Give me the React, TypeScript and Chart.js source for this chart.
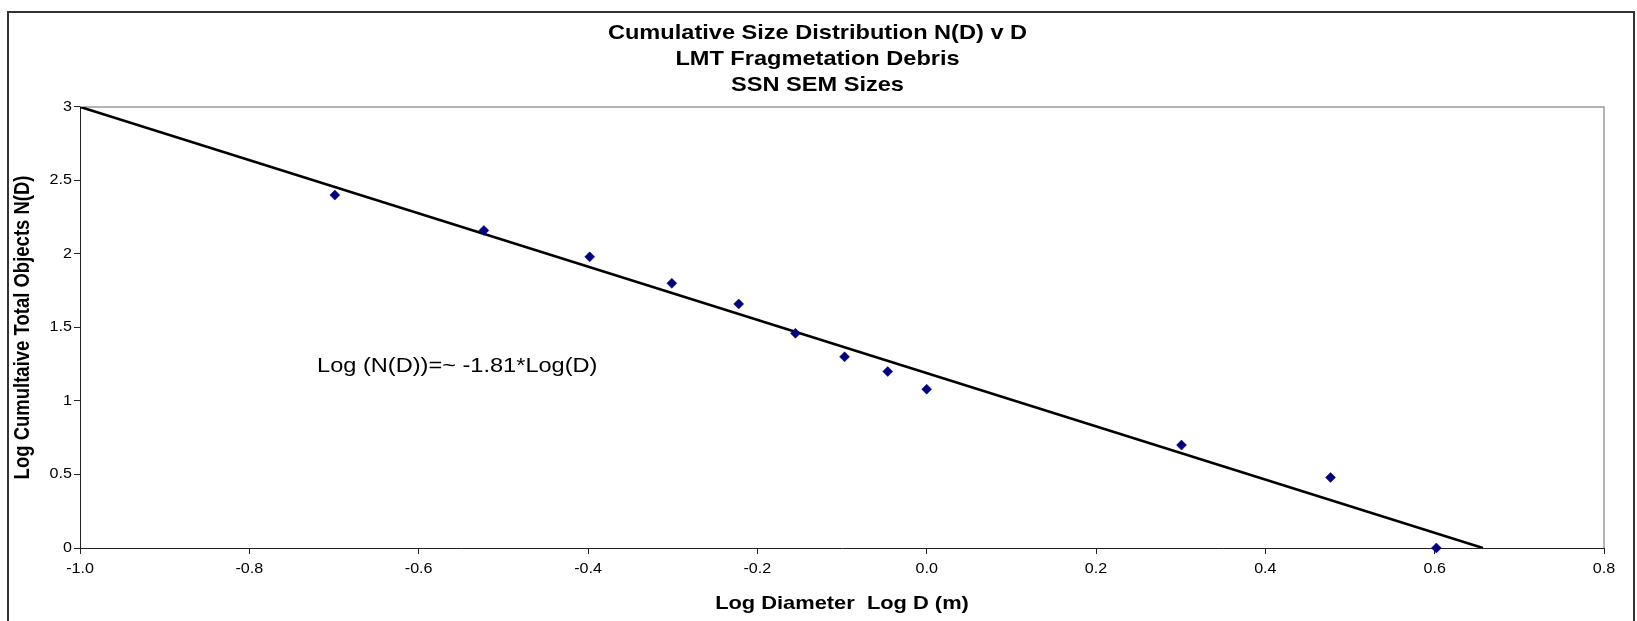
import React, { useEffect, useRef } from 'react';
import { Chart, registerables } from 'chart.js';

Chart.register(...registerables);

// ---------- data ----------
const titleLines = ['Cumulative Size Distribution N(D) v D', 'LMT Fragmetation Debris', 'SSN SEM Sizes'];
const xAxisTitle = 'Log Diameter  Log D (m)';
const yAxisTitle = 'Log Cumultaive Total Objects N(D)';

const logDiameter = [-0.699, -0.523, -0.398, -0.301, -0.222, -0.155, -0.097, -0.046, 0.0, 0.301, 0.477, 0.602];
const logCumulative = [2.40, 2.16, 1.98, 1.80, 1.66, 1.46, 1.30, 1.20, 1.08, 0.70, 0.48, 0.0];

const trendX = [-1.0, 0.657];
const trendY = [3.0, 0.0];

const xTickValues = [-1.0, -0.8, -0.6, -0.4, -0.2, 0.0, 0.2, 0.4, 0.6, 0.8];
const yTickValues = [0, 0.5, 1, 1.5, 2, 2.5, 3];

const equationText = 'Log (N(D))=~ -1.81*Log(D)';
const equationX = -0.72;
const equationY = 1.2;

// ---------- look ----------
const W = 1637;
const H = 621;
const TEXT_STRETCH = 1.15;
const FONT = '"Liberation Sans", Arial, Helvetica, sans-serif';

Chart.defaults.font.family = FONT;

const stretchTextPlugin = {
  id: 'stretchText',
  beforeDraw(chart: any) {
    const ctx = chart.ctx;
    if (ctx.__stretched) return;
    const orig = ctx.fillText;
    ctx.fillText = function (text: string, x: number, y: number, maxWidth?: number) {
      const m = ctx.getTransform();
      const px = m.a * x + m.c * y + m.e;
      const py = m.b * x + m.d * y + m.f;
      ctx.save();
      const t = new DOMMatrix().translate(px, py).scale(TEXT_STRETCH, 1).translate(-px, -py).multiply(m);
      ctx.setTransform(t);
      if (maxWidth === undefined || maxWidth === null) orig.call(ctx, text, x, y);
      else orig.call(ctx, text, x, y, maxWidth);
      ctx.restore();
    };
    ctx.__stretched = true;
  },
};

const framePlugin = {
  id: 'frame',
  beforeDraw(chart: any) {
    const { ctx } = chart;
    ctx.save();
    ctx.fillStyle = '#ffffff';
    ctx.fillRect(0, 0, W, H);
    ctx.strokeStyle = '#333333';
    ctx.lineWidth = 2;
    ctx.strokeRect(8, 12, 1626, H + 20);
    ctx.restore();
  },
  beforeDatasetsDraw(chart: any) {
    const { ctx, chartArea: a } = chart;
    ctx.save();
    ctx.strokeStyle = '#9a9a9a';
    ctx.lineWidth = 1.5;
    ctx.beginPath();
    ctx.moveTo(a.left, a.top);
    ctx.lineTo(a.right, a.top);
    ctx.lineTo(a.right, a.bottom);
    ctx.stroke();
    ctx.restore();
  },
  afterDatasetsDraw(chart: any) {
    const { ctx } = chart;
    const xs = chart.scales.x;
    const ys = chart.scales.y;
    ctx.save();
    ctx.font = `20.5px ${FONT}`;
    ctx.fillStyle = '#000000';
    ctx.textAlign = 'left';
    ctx.textBaseline = 'alphabetic';
    ctx.fillText(equationText, xs.getPixelForValue(equationX), ys.getPixelForValue(equationY));
    ctx.restore();
  },
};

export default function App() {
  const ref = useRef<HTMLCanvasElement>(null);

  useEffect(() => {
    if (!ref.current) return;
    const points = logDiameter.map((x, i) => ({ x, y: logCumulative[i] }));
    const trend = trendX.map((x, i) => ({ x, y: trendY[i] }));

    const chart = new Chart(ref.current, {
      type: 'scatter',
      data: {
        datasets: [
          {
            label: 'Observed',
            data: points,
            pointStyle: 'rectRot',
            pointRadius: 5,
            backgroundColor: '#000080',
            borderColor: '#000080',
            borderWidth: 0.5,
            clip: false,
          } as any,
          {
            label: 'Fit',
            data: trend,
            showLine: true,
            pointRadius: 0,
            borderColor: '#000000',
            borderWidth: 2.6,
            backgroundColor: '#000000',
          } as any,
        ],
      },
      options: {
        responsive: false,
        animation: false,
        devicePixelRatio: 1,
        events: [],
        layout: { padding: { left: 0, right: 2, top: 0, bottom: 0 } },
        plugins: {
          legend: { display: false },
          tooltip: { enabled: false },
          title: {
            display: true,
            text: titleLines,
            color: '#000000',
            font: { family: FONT, size: 20.5, weight: 'bold', lineHeight: 1.25 },
            padding: { top: 21, bottom: 9 },
          },
        },
        scales: {
          x: {
            type: 'linear',
            position: 'bottom',
            min: -1,
            max: 0.8,
            afterBuildTicks: (s: any) => {
              s.ticks = xTickValues.map((v) => ({ value: v }));
            },
            afterFit: (s: any) => {
              s.height = 73;
            },
            ticks: {
              callback: (v: any) => Number(v).toFixed(1),
              font: { size: 14 },
              color: '#000000',
              padding: 7,
              maxRotation: 0,
              autoSkip: false,
            },
            grid: { display: true, drawOnChartArea: false, drawTicks: true, tickLength: 6, color: '#222222' },
            border: { display: true, color: '#222222', width: 1 },
            title: {
              display: true,
              text: xAxisTitle,
              color: '#000000',
              font: { size: 19, weight: 'bold' },
              padding: { top: 0, bottom: 6 },
            },
          },
          y: {
            type: 'linear',
            position: 'left',
            min: 0,
            max: 3,
            afterBuildTicks: (s: any) => {
              s.ticks = yTickValues.map((v) => ({ value: v }));
            },
            afterFit: (s: any) => {
              s.width = 80;
            },
            ticks: {
              callback: (v: any) => String(Number(v)),
              font: { size: 14 },
              color: '#000000',
              padding: 2,
              autoSkip: false,
            },
            grid: { display: true, drawOnChartArea: false, drawTicks: true, tickLength: 6, color: '#222222' },
            border: { display: true, color: '#222222', width: 1 },
            title: {
              display: true,
              text: yAxisTitle,
              color: '#000000',
              font: { size: 18.5, weight: 'bold' },
              padding: { top: 12, bottom: 0 },
            },
          },
          yRight: {
            type: 'linear',
            position: 'right',
            display: true,
            afterFit: (s: any) => {
              s.width = 31;
            },
            ticks: { display: false },
            grid: { display: false, drawTicks: false },
            border: { display: false },
          },
        },
      } as any,
      plugins: [stretchTextPlugin, framePlugin],
    });

    return () => chart.destroy();
  }, []);

  return (
    <div style={{ position: 'absolute', left: 0, top: 0, width: W, height: H, background: '#ffffff' }}>
      <canvas ref={ref} width={W} height={H} style={{ display: 'block', width: W, height: H }} />
    </div>
  );
}
